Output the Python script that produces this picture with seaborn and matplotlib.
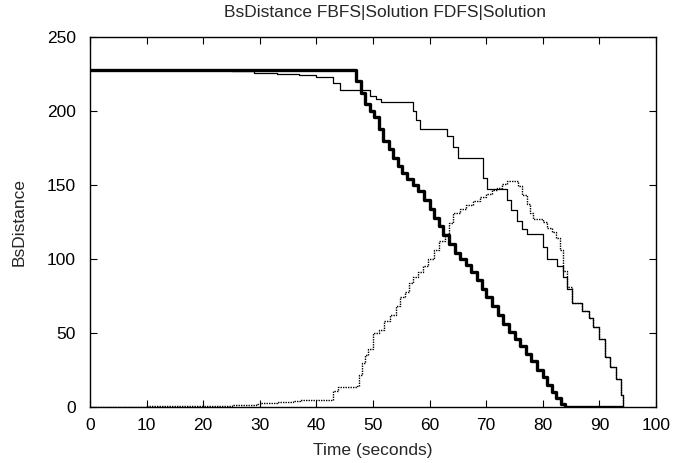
import matplotlib
matplotlib.use("Agg")
import matplotlib.pyplot as plt
import seaborn as sns
import pandas as pd

# ---- data ----
fbfs_x = [0, 47.0, 47.8, 48.6, 49.4, 50.2, 51.0, 51.8, 52.8, 53.6, 54.4, 55.2, 56.0,
          57.0, 58.0, 59.0, 60.0, 60.8, 61.6, 62.4, 63.4, 64.4, 65.4, 66.4, 67.4, 68.4,
          69.2, 70.0, 71.0, 72.0, 73.0, 74.0, 75.0, 76.0, 77.0, 78.0, 79.0, 80.0, 80.8,
          81.6, 82.4, 83.2, 84.0, 94.0]
fbfs_y = [228, 220, 212, 205, 200, 196, 188, 180, 174, 168, 163, 158, 154,
          150, 146, 140, 134, 128, 122, 116, 110, 104, 100, 96, 91, 86,
          80, 74, 68, 62, 56, 51, 46, 41, 36, 31, 25, 20, 15,
          10, 6, 2, 0, 0]

fdfs_x = [0, 25, 29, 33, 37, 40, 43.0, 44.2, 49.5, 50.5, 51.5, 57.1, 57.6, 58.3, 63.0,
          64.2, 65.0, 69.5, 70.1, 73.6, 74.4, 75.4, 76.4, 77.2, 80.1, 80.7, 82.5, 83.6,
          84.2, 85.1, 87.0, 88.2, 88.9, 90.0, 91.0, 91.9, 93.0, 93.9, 94.2]
fdfs_y = [228, 227, 226, 225, 224, 223, 219, 214, 210, 208, 206, 200, 194, 188, 183,
          176, 168, 155, 147, 140, 133, 126, 120, 117, 108, 100, 95, 88,
          80, 70, 65, 60, 54, 46, 34, 27, 19, 8, 0]

sol_x = [0, 10, 20, 25, 29.4, 30, 33, 35.9, 37.1, 42.4, 43.0, 43.9, 47.1, 47.6, 48.0,
         48.6, 49.2, 50.0, 51.0, 52.0, 53.0, 54.0, 54.8, 55.6, 56.4, 57.1, 58.0, 58.9,
         59.8, 60.7, 61.7, 62.7, 63.5, 64.2, 65.3, 66.5, 67.7, 68.9, 70.0, 71.0, 71.9,
         72.8, 73.6, 75.6, 76.4, 77.2, 77.8, 78.3, 80.1, 80.7, 81.6, 82.4, 83.0, 83.6,
         84.2, 85.1, 87.0, 88.2, 88.9, 90.0, 91.0, 91.9, 93.0, 93.9, 94.2]
sol_y = [0, 0.5, 1, 1.5, 2, 3, 3.5, 4, 4.5, 5, 10.6, 13.5, 14, 21.8, 29.5,
         35, 39, 50, 52, 58, 62, 68, 74.5, 78, 84, 88, 91, 95,
         100, 106, 112, 117, 124, 131, 134, 136.5, 139, 142, 144, 146.6, 148,
         151, 153, 149, 143, 137, 131, 127, 125, 121, 118, 114, 106, 92,
         81, 70, 65, 60, 54, 46, 34, 27, 19, 8, 0]

title = "BsDistance FBFS|Solution FDFS|Solution"
xlabel = "Time (seconds)"
ylabel = "BsDistance"

# ---- plotting ----
sns.set_style("ticks")
plt.rcParams["font.family"] = ["Liberation Sans", "DejaVu Sans"]
FS = 12.5

fig = plt.figure(figsize=(6.92, 4.63), dpi=100)
ax = fig.add_axes([90/692, 1 - 407/463, (656-90)/692, (407-37)/463])

common = dict(estimator=None, sort=False, drawstyle="steps-post", color="black", ax=ax)
sns.lineplot(x=sol_x, y=sol_y, linewidth=1.0, linestyle=(0, (1, 0.8)), **common)
sns.lineplot(x=fdfs_x, y=fdfs_y, linewidth=0.9, **common)
sns.lineplot(x=fbfs_x, y=fbfs_y, linewidth=2.4, **common)

ax.set_xlim(0, 100)
ax.set_ylim(0, 250)
ax.set_xticks(range(0, 101, 10))
ax.set_yticks(range(0, 251, 50))
ax.tick_params(axis="both", direction="in", length=5, width=0.8, top=True, right=True,
               labelsize=FS, colors="black")
ax.tick_params(axis="y", pad=10)
ax.tick_params(axis="x", pad=8)
for s in ax.spines.values():
    s.set_visible(True)
    s.set_linewidth(1.0)
    s.set_color("black")
ax.set_xlabel(xlabel, fontsize=FS, labelpad=7)
ax.set_ylabel(ylabel, fontsize=FS, labelpad=15)
fig.text(385/692, 1 - 12/463, title, ha="center", va="center", fontsize=FS)

fig.savefig("out.png", dpi=100)
